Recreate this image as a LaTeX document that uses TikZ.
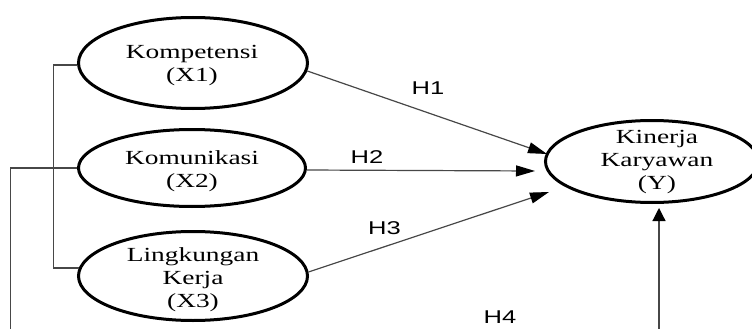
\documentclass[tikz,border=0pt]{standalone}
\usepackage{fontspec}
\setmainfont{Liberation Serif}
\newfontfamily\ovalfont[FakeStretch=1.37]{Liberation Serif}
\newfontfamily\hypfont[FakeStretch=1.38]{Liberation Sans}
\usetikzlibrary{shapes.geometric,arrows.meta}

\begin{document}
\begin{tikzpicture}[x=1pt,y=-1pt,
  latent/.style={ellipse,draw=black,line width=3pt,inner sep=0pt},
  ovaltext/.style={align=center,inner sep=0pt,font=\ovalfont\fontsize{20}{23}\selectfont},
  link/.style={draw=black!72,line width=1.2pt},
  hyparrow/.style={link,-{Triangle[length=19pt,width=11pt,color=black]}},
  uparrow/.style={link,-{Triangle[length=13pt,width=13pt,color=black]}},
  hyplabel/.style={inner sep=0pt,font=\hypfont\fontsize{18.5}{18.5}\selectfont}]
\useasboundingbox (0,0) rectangle (752,329);

% constructs
\node[latent,minimum width=229pt,minimum height=91pt] (x1) at (193,63) {};
\node[latent,minimum width=227pt,minimum height=77pt] (x2) at (192,168) {};
\node[latent,minimum width=229pt,minimum height=89pt] (x3) at (193,276) {};
\node[latent,minimum width=213pt,minimum height=82pt] (y) at (652,161.5) {};

\node[ovaltext] (x1t) at (192,66) {Kompetensi\\(X1)};
\node[ovaltext] (x2t) at (192,171) {Komunikasi\\(X2)};
\node[ovaltext] (x3t) at (193,280) {Lingkungan\\Kerja\\(X3)};
\node[ovaltext] (yt) at (657,162) {Kinerja\\Karyawan\\(Y)};

% bracket joining the three independent variables
\coordinate (bk) at (53.5,0);
\draw[link] (x1.181.5) -- (x1.181.5 -| bk) |- (x3.176);
\coordinate (lowleft) at (10.5,329);
\draw[link] (x2.west) -| (lowleft);

% arrow targets beside the dependent variable
\coordinate (t1) at (547,154);
\coordinate (t2) at (535,171);
\coordinate (t3) at (549,192);
\coordinate (t4) at (659,208);
\coordinate (bot) at (659,329);

\draw[hyparrow] (x1.-4) -- (t1);
\draw[hyparrow] (x2.-1.5) -- (t2);
\draw[hyparrow] (x3.2) -- (t3);
\draw[uparrow] (bot) -- (t4);

% hypothesis labels
\node[hyplabel] (h1) at (428,88) {H1};
\node[hyplabel] (h2) at (367,157) {H2};
\node[hyplabel] (h3) at (384.5,228.5) {H3};
\node[hyplabel] (h4) at (500,317) {H4};
\end{tikzpicture}
\end{document}
